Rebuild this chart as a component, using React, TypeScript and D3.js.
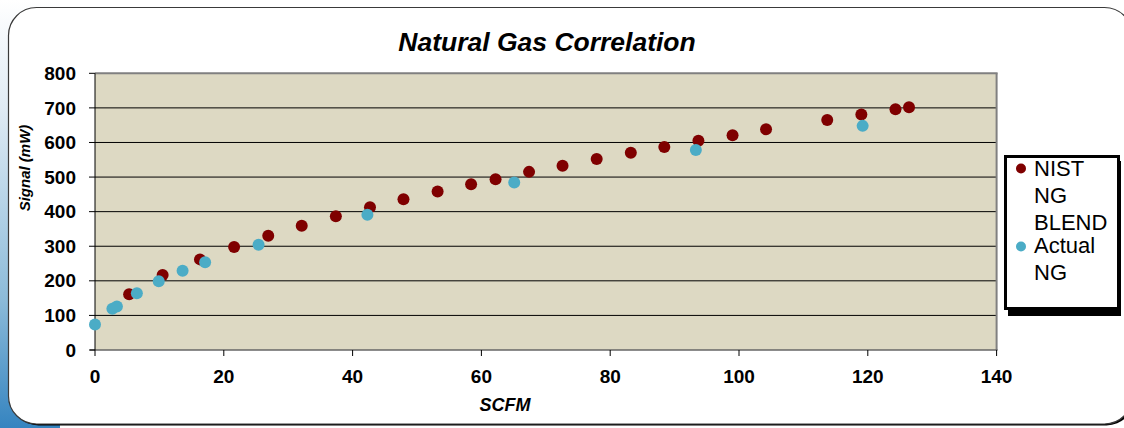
import React from 'react';
import * as d3 from 'd3';

const nistScfm = [5.3, 10.5, 16.3, 21.6, 26.9, 32.1, 37.4, 42.7, 47.9, 53.2, 58.4, 62.2, 67.4, 72.6, 77.9, 83.2, 88.4, 93.7, 99.0, 104.2, 113.7, 119.0, 124.3, 126.4];
const nistSignal = [161, 217, 262, 298, 330, 359, 387, 413, 436, 458, 479, 494, 515, 533, 552, 570, 587, 605, 621, 638, 665, 681, 696, 702];
const actualScfm = [0, 2.7, 3.4, 6.5, 9.9, 13.6, 17.1, 25.4, 42.3, 65.1, 93.3, 119.2];
const actualSignal = [74, 119, 126, 164, 199, 229, 254, 304, 391, 484, 578, 648];
const xTicks = [0, 20, 40, 60, 80, 100, 120, 140];
const yTicks = [0, 100, 200, 300, 400, 500, 600, 700, 800];
const legendNames = [['NIST', 'NG', 'BLEND'], ['Actual', 'NG']];
const seriesColors = ['#7f0000', '#4bacc6'];

const W = 1124;
const H = 428;
const FONT = "'Liberation Sans', Arial, sans-serif";

export default function App() {
  const x = d3.scaleLinear().domain([0, 140]).range([95, 996.6]);
  const y = d3.scaleLinear().domain([0, 800]).range([350, 73.3]);
  const x0 = x(0), x1 = x(140), yT = y(800), yB = y(0);
  const nist = nistScfm.map((v, i) => [v, nistSignal[i]]);
  const actual = actualScfm.map((v, i) => [v, actualSignal[i]]);
  const legendLineY = [176, 203, 230, 253, 280];

  return (
    <div style={{ position: 'absolute', left: 0, top: 0 }}>
      <svg width={W} height={H} style={{ display: 'block' }}>
        <defs>
          <linearGradient id="bgGrad" x1="0" y1="0" x2="0" y2="1">
            <stop offset="0" stopColor="#ffffff" />
            <stop offset="0.25" stopColor="#e0ebf4" />
            <stop offset="0.7" stopColor="#8cbbd9" />
            <stop offset="1" stopColor="#3584c0" />
          </linearGradient>
        </defs>
        <rect x={0} y={0} width={W} height={H} fill="#ffffff" />
        <rect x={0} y={0} width={60} height={H} fill="url(#bgGrad)" />
        {/* outer frame */}
        <rect x={10.5} y={9.5} width={1124} height={416} rx={28} ry={28} fill="#000" />
        <rect x={8.5} y={7.5} width={1124} height={416.5} rx={28} ry={28} fill="#fff" stroke="#3a3a3a" strokeWidth={1.2} />

        {/* title */}
        <text x={547} y={51} textAnchor="middle" fontFamily={FONT} fontWeight="bold" fontStyle="italic" fontSize={26.5}>Natural Gas Correlation</text>

        {/* plot area */}
        <rect x={x0} y={yT} width={x1 - x0} height={yB - yT} fill="#ddd9c3" />
        {yTicks.filter(t => t > 0 && t < 800).map(t => (
          <line key={'g' + t} x1={x0} x2={x1} y1={y(t)} y2={y(t)} stroke="#000" strokeWidth={1} />
        ))}
        <line x1={x0} x2={x1 + 1} y1={yT} y2={yT} stroke="#808080" strokeWidth={2} />
        <line x1={x1} x2={x1} y1={yT} y2={yB} stroke="#808080" strokeWidth={2} />
        <line x1={x0 - 5} x2={x1 + 1} y1={yB} y2={yB} stroke="#666" strokeWidth={1.5} />
        <line x1={x0} x2={x0} y1={yT} y2={yB} stroke="#000" strokeWidth={1} />

        {/* y ticks */}
        {yTicks.map(t => (
          <g key={'y' + t}>
            <line x1={x0 - 6} x2={x0} y1={y(t)} y2={y(t)} stroke="#000" strokeWidth={1} />
            <text x={76} y={y(t)} dy="0.35em" textAnchor="end" fontFamily={FONT} fontWeight="bold" fontSize={19}>{t}</text>
          </g>
        ))}
        {/* x ticks */}
        {xTicks.map(t => (
          <g key={'x' + t}>
            <line x1={x(t)} x2={x(t)} y1={yB} y2={yB + 6} stroke="#000" strokeWidth={1} />
            <text x={x(t)} y={383} textAnchor="middle" fontFamily={FONT} fontWeight="bold" fontSize={19}>{t}</text>
          </g>
        ))}

        {/* axis titles */}
        <text x={505} y={411} textAnchor="middle" fontFamily={FONT} fontWeight="bold" fontStyle="italic" fontSize={18}>SCFM</text>
        <text transform="translate(30,168) rotate(-90)" textAnchor="middle" fontFamily={FONT} fontWeight="bold" fontStyle="italic" fontSize={15}>Signal (mW)</text>

        {/* data */}
        {nist.map((d, i) => (
          <circle key={'n' + i} cx={x(d[0])} cy={y(d[1])} r={6} fill={seriesColors[0]} />
        ))}
        {actual.map((d, i) => (
          <circle key={'a' + i} cx={x(d[0])} cy={y(d[1])} r={6} fill={seriesColors[1]} />
        ))}

        {/* legend */}
        <rect x={1008} y={161} width={113} height={155} fill="#000" />
        <rect x={1005.5} y={156.5} width={113} height={152} fill="#fff" stroke="#000" strokeWidth={3} />
        <circle cx={1021} cy={168.5} r={5} fill={seriesColors[0]} />
        <circle cx={1021} cy={246.5} r={5} fill={seriesColors[1]} />
        {legendNames.flat().map((s, i) => (
          <text key={'l' + i} x={1034} y={legendLineY[i]} fontFamily={FONT} fontSize={22}>{s}</text>
        ))}
      </svg>
    </div>
  );
}
